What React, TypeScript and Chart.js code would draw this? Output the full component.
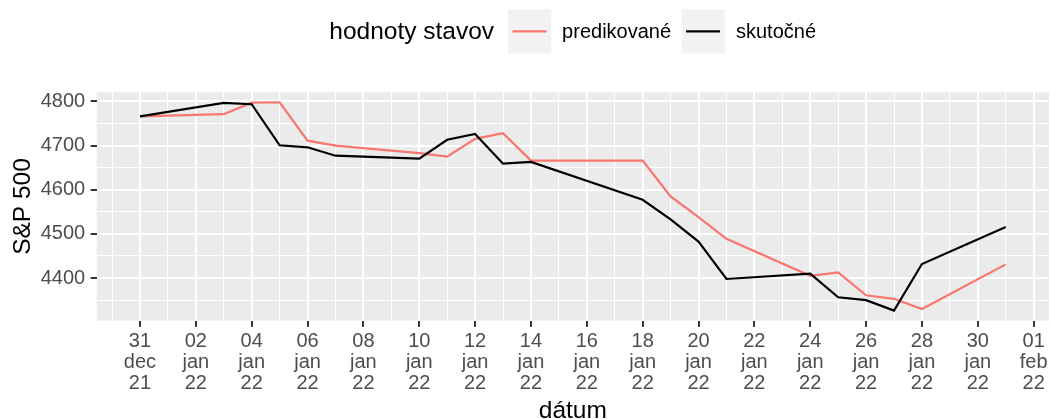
import React, { useEffect, useRef } from "react";
import { Chart, registerables } from "chart.js";

Chart.register(...registerables);

// ---------- data ----------
const dates = [
  "2021-12-31", "2022-01-03", "2022-01-04", "2022-01-05", "2022-01-06", "2022-01-07",
  "2022-01-10", "2022-01-11", "2022-01-12", "2022-01-13", "2022-01-14",
  "2022-01-18", "2022-01-19", "2022-01-20", "2022-01-21",
  "2022-01-24", "2022-01-25", "2022-01-26", "2022-01-27", "2022-01-28",
  "2022-01-31",
];
const actualValues = [
  4766.18, 4796.56, 4793.54, 4700.58, 4696.05, 4677.03,
  4670.29, 4713.07, 4726.35, 4659.03, 4662.85,
  4577.11, 4532.76, 4482.73, 4397.94,
  4410.13, 4356.45, 4349.93, 4326.51, 4431.85,
  4515.55,
];
const predictedValues = [
  4766, 4771, 4797, 4798, 4711, 4700,
  4683, 4675, 4715, 4728, 4666,
  4666, 4585, 4538, 4489,
  4405, 4413, 4361, 4353, 4330,
  4431,
];
const yMajorTicks = [4400, 4500, 4600, 4700, 4800];
const yMinorTicks = [4350, 4450, 4550, 4650, 4750];
const monthNames = ["jan", "feb", "mar", "apr", "máj", "jún", "júl", "aug", "sep", "okt", "nov", "dec"];
const seriesNames = ["predikované", "skutočné"];
const legendTitle = "hodnoty stavov";
const xAxisTitle = "dátum";
const yAxisTitle = "S&P 500";
const originDate = "2021-12-31";

// ---------- helpers ----------
const DAY = 86400000;
const originMs = Date.parse(originDate + "T00:00:00Z");
const dayOf = (s: string) => (Date.parse(s + "T00:00:00Z") - originMs) / DAY;
const xTickDays: number[] = [];
for (let d = -1; d <= 32; d++) xTickDays.push(d);
const isMajorDay = (v: number) => Math.abs(v % 2) < 1e-9;
const isMajorY = (v: number) => yMajorTicks.indexOf(v) >= 0;
const pad2 = (n: number) => (n < 10 ? "0" + n : String(n));
const dayLabel = (d: number) => {
  const dt = new Date(originMs + d * DAY);
  return [pad2(dt.getUTCDate()), monthNames[dt.getUTCMonth()], pad2(dt.getUTCFullYear() % 100)];
};

const FONT = "'Liberation Sans', Arial, Helvetica, sans-serif";
const RED = "#F8766D";

const decorPlugin = {
  id: "decor",
  beforeDraw(chart: any) {
    const { ctx, chartArea } = chart;
    ctx.save();
    ctx.fillStyle = "#EBEBEB";
    ctx.fillRect(chartArea.left, chartArea.top, chartArea.right - chartArea.left, chartArea.bottom - chartArea.top);
    ctx.restore();
  },
  afterDraw(chart: any) {
    const { ctx, chartArea } = chart;
    ctx.save();
    // legend
    ctx.fillStyle = "#000";
    ctx.textBaseline = "alphabetic";
    ctx.textAlign = "left";
    ctx.font = `24.5px ${FONT}`;
    ctx.fillText(legendTitle, 329.3, 38.6);
    const keys = [
      { x: 508, color: RED, label: seriesNames[0], tx: 562.1 },
      { x: 681.5, color: "#000000", label: seriesNames[1], tx: 736 },
    ];
    keys.forEach((k) => {
      ctx.fillStyle = "#F2F2F2";
      ctx.fillRect(k.x, 9.3, 43.3, 44);
      ctx.strokeStyle = k.color;
      ctx.lineWidth = 2.2;
      ctx.lineCap = "butt";
      ctx.beginPath();
      ctx.moveTo(k.x + 4.5, 31.3);
      ctx.lineTo(k.x + 38.5, 31.3);
      ctx.stroke();
      ctx.fillStyle = "#000";
      ctx.font = `20px ${FONT}`;
      ctx.fillText(k.label, k.tx, 38.4);
    });
    // axis titles
    ctx.font = `24.5px ${FONT}`;
    ctx.textAlign = "center";
    ctx.fillText(xAxisTitle, (chartArea.left + chartArea.right) / 2, 418);
    ctx.translate(29.5, (chartArea.top + chartArea.bottom) / 2);
    ctx.rotate(-Math.PI / 2);
    ctx.fillText(yAxisTitle, 0, 0);
    ctx.restore();
  },
};

export default function App() {
  const ref = useRef<HTMLCanvasElement | null>(null);
  useEffect(() => {
    if (!ref.current) return;
    const actualPts = dates.map((d, i) => ({ x: dayOf(d), y: actualValues[i] }));
    const predPts = dates.map((d, i) => ({ x: dayOf(d), y: predictedValues[i] }));
    const chart = new Chart(ref.current, {
      type: "line",
      data: {
        datasets: [
          {
            label: seriesNames[1],
            data: actualPts,
            borderColor: "#000000",
            borderWidth: 2.2,
            pointRadius: 0,
            tension: 0,
            fill: false,
            order: 0,
          },
          {
            label: seriesNames[0],
            data: predPts,
            borderColor: RED,
            borderWidth: 2.2,
            pointRadius: 0,
            tension: 0,
            fill: false,
            order: 1,
          },
        ],
      },
      options: {
        animation: false,
        responsive: false,
        devicePixelRatio: 1,
        events: [],
        layout: { padding: { top: 92.3, right: 3, left: 0, bottom: 0 } },
        plugins: { legend: { display: false }, tooltip: { enabled: false } },
        scales: {
          x: {
            type: "linear",
            min: -1.55,
            max: 32.55,
            afterBuildTicks: (s: any) => {
              s.ticks = xTickDays.map((v) => ({ value: v }));
            },
            afterFit: (s: any) => {
              s.height = 98.3;
            },
            border: { display: false },
            grid: {
              color: "#FFFFFF",
              lineWidth: (c: any) => (c.tick && isMajorDay(c.tick.value) ? 2 : 1),
              tickColor: (c: any) => (c.tick && isMajorDay(c.tick.value) ? "#333333" : "rgba(0,0,0,0)"),
              tickWidth: 2,
              tickLength: 6,
            },
            ticks: {
              autoSkip: false,
              maxRotation: 0,
              minRotation: 0,
              padding: 4,
              color: "#4D4D4D",
              font: { family: FONT, size: 20, lineHeight: 1.06 },
              callback: (v: any) => (isMajorDay(Number(v)) ? dayLabel(Number(v)) : ""),
            },
          },
          y: {
            type: "linear",
            min: 4303.5,
            max: 4820.5,
            afterBuildTicks: (s: any) => {
              s.ticks = [...yMinorTicks, ...yMajorTicks].sort((a, b) => a - b).map((v) => ({ value: v }));
            },
            afterFit: (s: any) => {
              s.width = 96.7;
            },
            border: { display: false },
            grid: {
              color: "#FFFFFF",
              lineWidth: (c: any) => (c.tick && isMajorY(c.tick.value) ? 2 : 1),
              tickColor: (c: any) => (c.tick && isMajorY(c.tick.value) ? "#333333" : "rgba(0,0,0,0)"),
              tickWidth: 2,
              tickLength: 6,
            },
            ticks: {
              autoSkip: false,
              padding: 5.5,
              color: "#4D4D4D",
              font: { family: FONT, size: 20 },
              callback: (v: any) => (isMajorY(Number(v)) ? String(v) : ""),
            },
          },
        },
      },
      plugins: [decorPlugin],
    } as any);
    return () => chart.destroy();
  }, []);
  return (
    <div style={{ position: "absolute", left: 0, top: 0, width: 1052, height: 419, background: "#fff" }}>
      <canvas ref={ref} width={1052} height={419} style={{ display: "block" }} />
    </div>
  );
}
